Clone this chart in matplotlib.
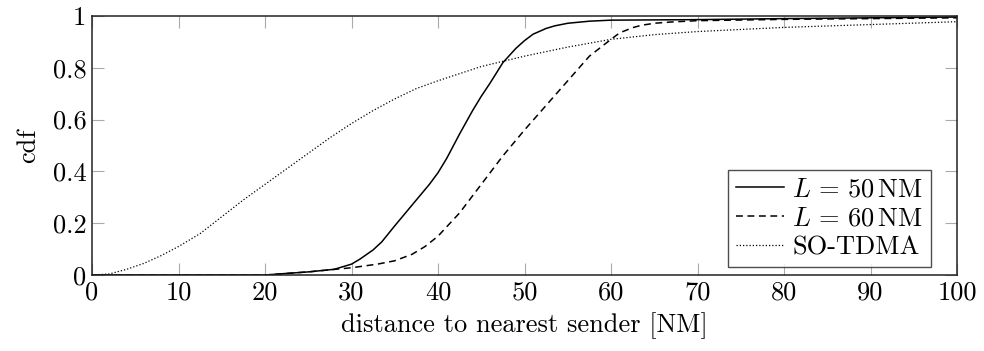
import matplotlib
matplotlib.use("Agg")
import matplotlib.pyplot as plt

plt.rcParams['font.family'] = ['cmr10', 'DejaVu Serif']
plt.rcParams['mathtext.fontset'] = 'cm'
plt.rcParams['axes.formatter.use_mathtext'] = True

# values
l50_x = [0, 20, 22, 25, 28, 30, 31, 32.5, 33.5, 35, 36, 37.5, 39, 40, 41, 42.5, 44, 45, 46, 47.5, 49, 50, 51, 52.5, 53.5, 55, 57.5, 60, 70, 80, 90, 100]
l50_y = [0, 0, 0.005, 0.012, 0.022, 0.042, 0.062, 0.097, 0.128, 0.19, 0.23, 0.29, 0.35, 0.395, 0.45, 0.545, 0.635, 0.69, 0.74, 0.82, 0.875, 0.905, 0.93, 0.952, 0.962, 0.972, 0.98, 0.984, 0.986, 0.99, 0.993, 0.996]

l60_x = [0, 20, 25, 30, 33, 35, 37, 38.5, 40, 42.5, 45, 47.5, 50, 52.5, 55, 57.5, 60, 61, 62.5, 63.5, 65, 67, 70, 80, 90, 100]
l60_y = [0, 0, 0.012, 0.028, 0.042, 0.055, 0.08, 0.11, 0.15, 0.24, 0.35, 0.46, 0.56, 0.655, 0.75, 0.845, 0.91, 0.935, 0.955, 0.964, 0.972, 0.977, 0.982, 0.987, 0.99, 0.993]

so_x = [0, 2, 4, 6, 8, 10, 12.5, 15, 17.5, 20, 22.5, 25, 27.5, 30, 32.5, 35, 37.5, 40, 45, 50, 55, 60, 65, 70, 80, 90, 100]
so_y = [0, 0.004, 0.022, 0.045, 0.075, 0.11, 0.16, 0.225, 0.29, 0.35, 0.41, 0.47, 0.53, 0.585, 0.635, 0.68, 0.72, 0.75, 0.805, 0.845, 0.88, 0.91, 0.928, 0.94, 0.956, 0.967, 0.978]

xticks = [0, 10, 20, 30, 40, 50, 60, 70, 80, 90, 100]
yticks = [0, 0.2, 0.4, 0.6, 0.8, 1]
ytick_labels = ['0', '0.2', '0.4', '0.6', '0.8', '1']

fs = 19

fig = plt.figure(figsize=(9.84, 3.51), dpi=100)
ax = fig.add_axes([0.0935, 0.2165, 0.8791, 0.7379])

ax.plot(l50_x, l50_y, color='black', lw=1.1, label=r'$L\,=\,50\,\mathrm{NM}$')
ax.plot(l60_x, l60_y, color='black', lw=1.1, ls=(0, (4.5, 3)), label=r'$L\,=\,60\,\mathrm{NM}$')
ax.plot(so_x, so_y, color='black', lw=0.9, ls=(0, (1, 1.6)), label='SO-TDMA')

ax.set_xlim(0, 100)
ax.set_ylim(0, 1)
ax.set_xticks(xticks)
ax.set_xticklabels([str(t) for t in xticks])
ax.set_yticks(yticks)
ax.set_yticklabels(ytick_labels)
ax.tick_params(direction='in', length=8.5, width=0.8, color='#aaaaaa',
               top=True, right=True, labelsize=fs, pad=4)
for s in ax.spines.values():
    s.set_linewidth(1.1)
    s.set_color('#222222')

ax.set_xlabel('distance to nearest sender [NM]', fontsize=fs, labelpad=6)
ax.set_ylabel('cdf', fontsize=fs, labelpad=9)

leg = ax.legend(loc='lower right', bbox_to_anchor=(0.97, 0.03), borderaxespad=0,
                fontsize=fs, frameon=True, fancybox=False, edgecolor='#222222',
                handlelength=1.85, handletextpad=0.3, borderpad=0.3, labelspacing=0.2)
leg.get_frame().set_linewidth(1.0)

fig.savefig('out.png', dpi=100)
